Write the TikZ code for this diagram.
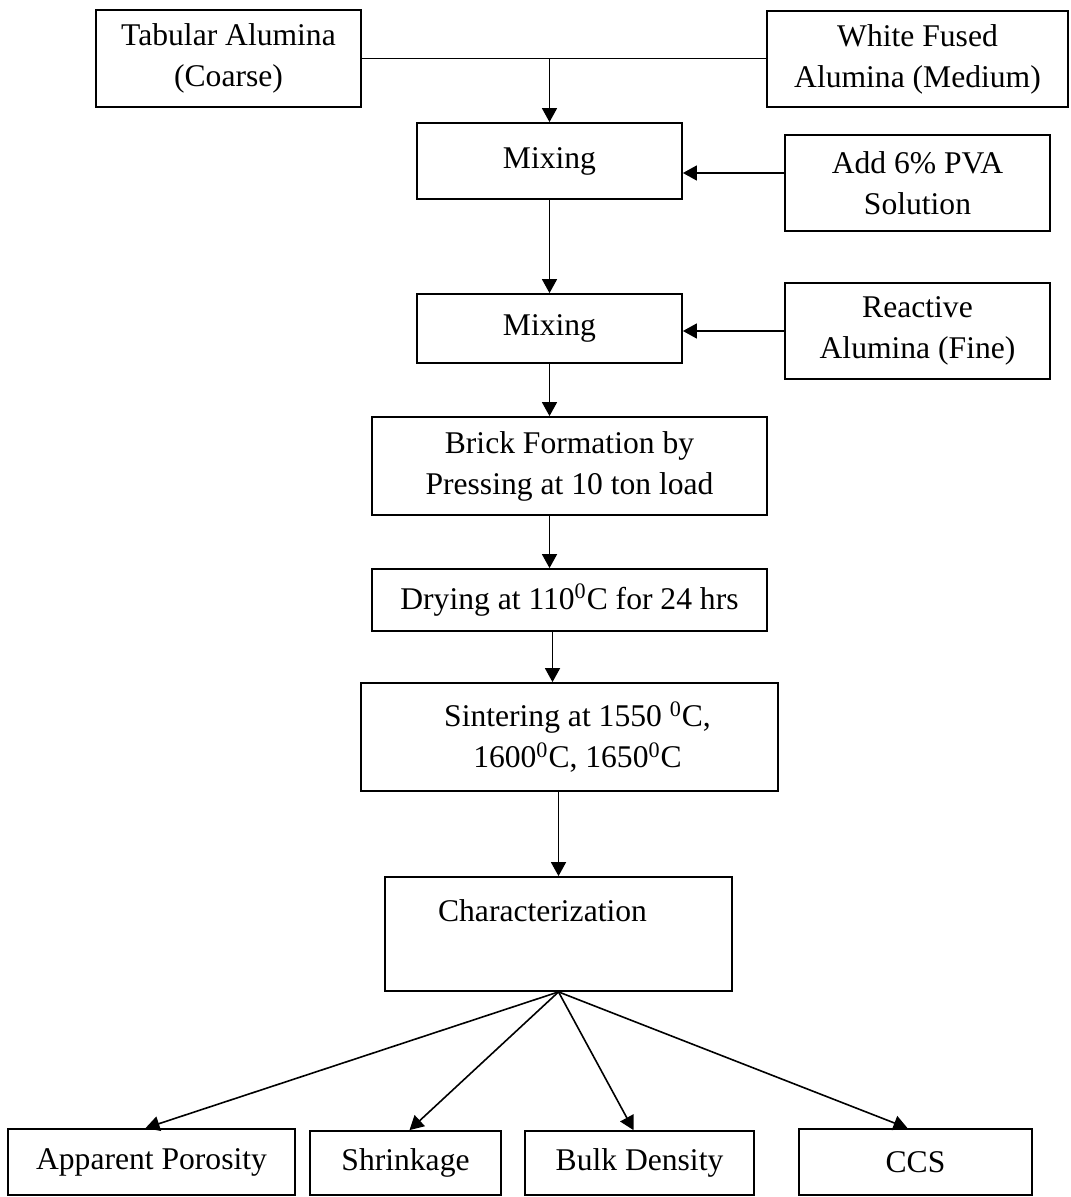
\documentclass[tikz,border=0pt]{standalone}
\usepackage{fontspec}
\setmainfont{Liberation Serif}
\usetikzlibrary{arrows.meta}

\begin{document}
\begin{tikzpicture}[x=50pt, y=-50pt, >={Triangle[length=7pt,width=7.5pt]},
        box/.style={draw, line width=0.9pt, align=center, inner sep=0pt,
            font=\fontsize{15.8}{20.5}\selectfont},
        flow/.style={->, line width=0.8pt}]
        \useasboundingbox (0,0) rectangle (10.70,11.97);

        % Raw materials
        \node[box, minimum width=132.5pt, minimum height=48.5pt] (tab) at (2.285, 0.585) {Tabular Alumina\\(Coarse)};
        \node[box, minimum width=150.5pt, minimum height=48pt] (wfa) at (9.175, 0.59) {White Fused\\Alumina (Medium)};
        \node[box, minimum width=132.5pt, minimum height=48pt] (pva) at (9.175, 1.83) {Add 6\% PVA\\Solution};
        \node[box, minimum width=132.5pt, minimum height=48pt] (rea) at (9.175, 3.31) {Reactive\\Alumina (Fine)};

        % Process steps
        \node[box, minimum width=132.5pt, minimum height=38pt] (mix1) at (5.495, 1.61) {Mixing};
        \node[box, minimum width=132.5pt, minimum height=34.5pt] (mix2) at (5.495, 3.285) {Mixing};
        \node[box, minimum width=197.5pt, minimum height=49pt] (brick) at (5.695, 4.66) {Brick Formation by\\Pressing at 10 ton load};
        \node[box, minimum width=197.5pt, minimum height=31pt] (dry) at (5.695, 6.00) {Drying at 110\textsuperscript{0}C for 24 hrs};
        \node[box, minimum width=208.5pt, minimum height=54pt] (sinter) at (5.695, 7.37) {\hspace*{8pt}Sintering at 1550 \textsuperscript{0}C,\\\hspace*{8pt}1600\textsuperscript{0}C, 1650\textsuperscript{0}C};
        \node[box, minimum width=173.5pt, minimum height=57pt] (char) at (5.585, 9.34) {Characterization\hspace*{16pt}\\[3pt]~};

        % Tests
        \node[box, minimum width=143.5pt, minimum height=33pt] (ap) at (1.515, 11.62) {Apparent Porosity};
        \node[box, minimum width=95.5pt, minimum height=32pt] (shr) at (4.055, 11.63) {Shrinkage};
        \node[box, minimum width=114.5pt, minimum height=32pt] (bd) at (6.395, 11.63) {Bulk Density};
        \node[box, minimum width=116.5pt, minimum height=33pt] (ccs) at (9.155, 11.62) {CCS};

        % Connectors
        \draw[line width=0.8pt] (tab.east) -- (tab.east -| wfa.west);
        \coordinate (join) at (tab.east -| mix1.north);
        \draw[flow] (join) -- (mix1.north);
        \draw[flow] ([yshift=5pt]pva.west) -- ([yshift=5pt]pva.west -| mix1.east);
        \draw[flow] (mix1.south) -- (mix2.north);
        \draw[flow] (rea.west) -- (rea.west -| mix2.east);
        \draw[flow] (mix2.south) -- (mix2.south |- brick.north);
        \draw[flow] ([xshift=-10pt]brick.south) -- ([xshift=-10pt]dry.north);
        \draw[flow] ([xshift=-8.5pt]dry.south) -- ([xshift=-8.5pt]sinter.north);
        \draw[flow] (sinter.south -| char.north) -- (char.north);

        % Fan out to tests
        \draw[flow] (char.south) -- ([xshift=-3pt]ap.north);
        \draw[flow] (char.south) -- ([xshift=2pt]shr.north);
        \draw[flow] (char.south) -- ([xshift=-3pt]bd.north);
        \draw[flow] (char.south) -- ([xshift=-4pt]ccs.north);
    \end{tikzpicture}
\end{document}
